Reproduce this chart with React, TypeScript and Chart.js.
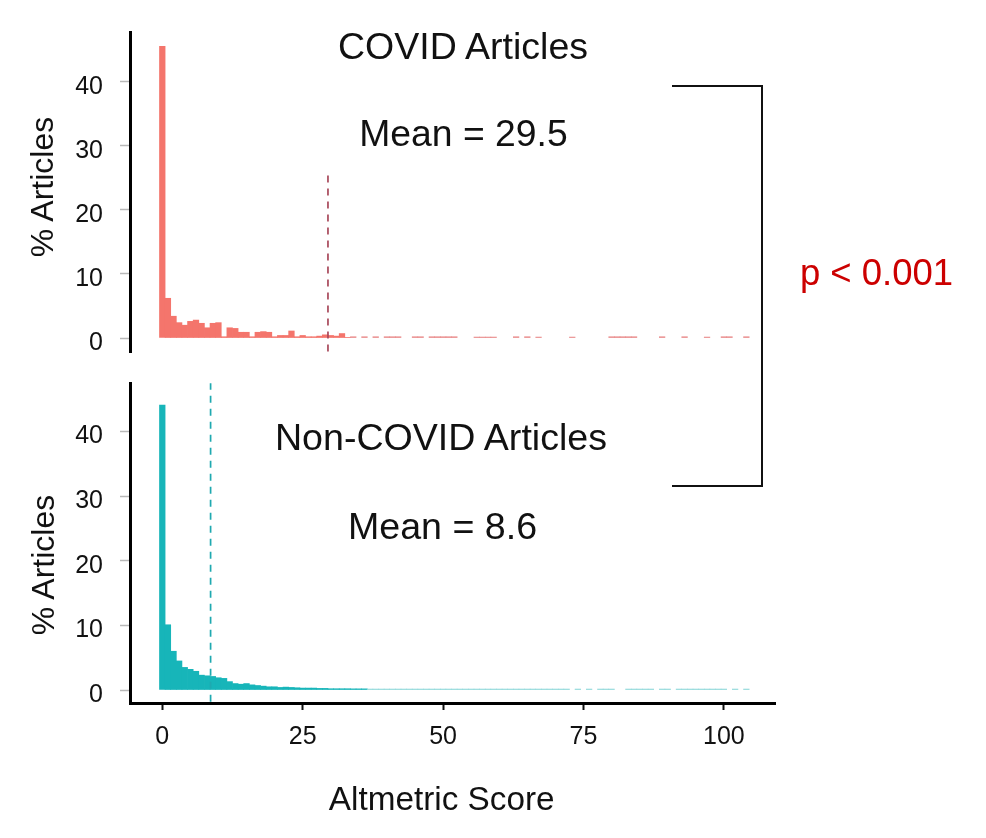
import React, { useEffect, useRef } from "react";
import { Chart, registerables } from "chart.js";

Chart.register(...registerables);

// ---------- data ----------
const xTicks = [0, 25, 50, 75, 100];
const yTicks = [0, 10, 20, 30, 40];

const covidScores = [
  0, 1, 2, 3, 4, 5, 6, 7, 8, 9, 10, 11, 12, 13, 14, 15, 16, 17, 18, 19, 20, 21, 22, 23, 24, 25, 26, 27, 28, 29, 30, 31, 32, 33,
  34, 36, 38, 40, 41, 42, 45, 46, 48, 49, 50, 51, 52, 56, 57, 58, 59, 63, 65, 67, 73, 80, 81, 82, 83, 84, 89, 93, 97, 100, 101, 104,
];
const covidPct = [
  45.5, 6.2, 3.4, 2.4, 2.0, 2.6, 2.8, 2.3, 1.6, 2.3, 2.4, 0.2, 1.6, 1.5, 0.9, 0.9, 0.2, 0.9, 1.0, 0.9, 0.2, 0.4, 0.4, 1.1, 0.2, 0.4, 0.2, 0.2, 0.3, 0.5, 0.4, 0.3, 0.7, 0.1,
  0.2, 0.2, 0.2, 0.2, 0.2, 0.2, 0.2, 0.2, 0.2, 0.2, 0.2, 0.2, 0.2, 0.15, 0.15, 0.15, 0.15, 0.2, 0.2, 0.15, 0.15, 0.2, 0.2, 0.2, 0.2, 0.2, 0.2, 0.2, 0.15, 0.2, 0.2, 0.2,
];
const covidMean = 29.5;
const covidMeanLineSpan = [-2.1, 25.7];

const nonCovidScores = [
  0, 1, 2, 3, 4, 5, 6, 7, 8, 9, 10, 11, 12, 13, 14, 15, 16, 17, 18, 19, 20, 21, 22, 23, 24, 25, 26, 27, 28, 29, 30, 31, 32, 33, 34, 35, 36,
  37, 38, 39, 40, 41, 42, 43, 44, 45, 46, 47, 48, 49, 50, 51, 52, 53, 54, 55, 56, 57, 58, 59, 60, 61, 62, 63, 64, 65, 66, 67, 68, 69, 70, 71, 72,
  74, 76, 78, 79, 80, 83, 84, 85, 86, 87, 89, 90, 92, 93, 94, 95, 96, 97, 98, 99, 100, 102, 104,
];
const nonCovidPct = [
  44.1, 10.1, 6.0, 4.5, 3.5, 3.2, 2.9, 2.3, 2.2, 2.1, 1.9, 1.8, 1.3, 1.0, 0.9, 1.0, 0.8, 0.7, 0.6, 0.5, 0.5, 0.4, 0.45, 0.4, 0.35, 0.3, 0.3, 0.3, 0.25, 0.25, 0.2, 0.2, 0.2, 0.2, 0.18, 0.18, 0.18,
  0.15, 0.15, 0.15, 0.15, 0.15, 0.15, 0.15, 0.15, 0.15, 0.15, 0.15, 0.15, 0.15, 0.15, 0.15, 0.15, 0.15, 0.15, 0.15, 0.15, 0.15, 0.15, 0.15, 0.15, 0.15, 0.15, 0.15, 0.15, 0.15, 0.15, 0.15, 0.15, 0.15, 0.15, 0.15, 0.15,
  0.15, 0.15, 0.15, 0.15, 0.15, 0.15, 0.15, 0.15, 0.15, 0.15, 0.15, 0.15, 0.15, 0.15, 0.15, 0.15, 0.15, 0.15, 0.15, 0.15, 0.15, 0.15, 0.15,
];
const nonCovidMean = 8.6;
const nonCovidMeanLineSpan = [-1.8, 47.5];

// ---------- styling ----------
const FONT = "'Liberation Sans', Arial, Helvetica, sans-serif";
const COVID_COLOR = "#F4756C";
const COVID_TAIL_COLOR = "#E98A8A";
const COVID_MEAN_COLOR = "#A8485A";
const NONCOVID_COLOR = "#17B5B9";
const NONCOVID_TAIL_COLOR = "#8FD8DA";
const NONCOVID_MEAN_COLOR = "#1FA9B0";
const X_MIN = -5.75;
const X_MAX = 109.1;

function makeConfig(
  scores: number[],
  pct: number[],
  color: string,
  tailColor: string,
  tailFrom: number,
  mean: number,
  span: number[],
  meanColor: string,
  yMin: number,
  yMax: number,
  showX: boolean,
  padding: { top: number; bottom: number },
  dash: number[]
): any {
  return {
    type: "bar",
    data: {
      datasets: [
        {
          type: "line",
          data: [
            { x: mean, y: span[0] },
            { x: mean, y: span[1] },
          ],
          borderColor: meanColor,
          borderWidth: 1.7,
          borderDash: dash,
          pointRadius: 0,
          fill: false,
          order: 0,
          clip: false,
        },
        {
          type: "bar",
          data: scores.map((s, i) => ({ x: s, y: pct[i] })),
          backgroundColor: (ctx: any) => (ctx.raw && ctx.raw.x >= tailFrom ? tailColor : color),
          borderWidth: 0,
          barPercentage: 1,
          categoryPercentage: 1,
          order: 1,
        },
      ],
    },
    options: {
      animation: false,
      responsive: true,
      maintainAspectRatio: false,
      layout: { padding: { left: 0, right: 211, top: padding.top, bottom: padding.bottom } },
      plugins: { legend: { display: false }, tooltip: { enabled: false }, title: { display: false } },
      scales: {
        x: {
          type: "linear",
          min: X_MIN,
          max: X_MAX,
          offset: false,
          display: showX,
          afterFit: (s: any) => {
            if (showX) s.height = 60;
          },
          afterBuildTicks: (s: any) => {
            s.ticks = xTicks.map((v) => ({ value: v }));
          },
          grid: { offset: false, drawOnChartArea: false, tickLength: 7, tickColor: "#111", tickWidth: 2 },
          border: { color: "#000", width: 3 },
          ticks: {
            font: { family: FONT, size: 25 },
            color: "#111",
            padding: 12,
            maxRotation: 0,
            autoSkip: false,
            callback: (v: any) => String(v),
          },
        },
        y: {
          type: "linear",
          min: yMin,
          max: yMax,
          afterFit: (s: any) => {
            s.width = 130;
          },
          afterBuildTicks: (s: any) => {
            s.ticks = yTicks.map((v) => ({ value: v }));
          },
          grid: { drawOnChartArea: false, tickLength: 10, tickColor: "#b8b8b8", tickWidth: 1.5 },
          border: { color: "#000", width: 3 },
          ticks: {
            font: { family: FONT, size: 25 },
            color: "#111",
            padding: 17,
            labelOffset: 5,
            autoSkip: false,
            callback: (v: any) => String(v),
          },
        },
      },
    },
  };
}

function ChartBox(props: { style: React.CSSProperties; config: () => any }) {
  const ref = useRef<HTMLCanvasElement | null>(null);
  useEffect(() => {
    if (!ref.current) return;
    const chart = new Chart(ref.current, props.config());
    return () => chart.destroy();
  }, []);
  return (
    <div style={{ position: "absolute", ...props.style }}>
      <canvas ref={ref} />
    </div>
  );
}

function Label(props: { x: number; y: number; size: number; text: string; color?: string; rotate?: boolean }) {
  return (
    <span
      style={{
        position: "absolute",
        left: props.x,
        top: props.y,
        transform: "translate(-50%, -50%)" + (props.rotate ? " rotate(-90deg)" : ""),
        fontFamily: FONT,
        fontSize: props.size,
        lineHeight: 1,
        whiteSpace: "nowrap",
        color: props.color || "#111",
      }}
    >
      {props.text}
    </span>
  );
}

export default function App() {
  return (
    <div
      style={{
        position: "fixed",
        left: 0,
        top: 0,
        width: 986,
        height: 838,
        background: "#fff",
        overflow: "hidden",
      }}
    >
      <ChartBox
        style={{ left: 0, top: 0, width: 986, height: 392 }}
        config={() =>
          makeConfig(covidScores, covidPct, COVID_COLOR, COVID_TAIL_COLOR, 34, covidMean, covidMeanLineSpan, COVID_MEAN_COLOR, -2.18, 47.74, false, { top: 32, bottom: 40 }, [7, 6])
        }
      />
      <ChartBox
        style={{ left: 0, top: 343, width: 986, height: 495 }}
        config={() =>
          makeConfig(nonCovidScores, nonCovidPct, NONCOVID_COLOR, NONCOVID_TAIL_COLOR, 37, nonCovidMean, nonCovidMeanLineSpan, NONCOVID_MEAN_COLOR, -2.01, 47.52, true, { top: 40, bottom: 75 }, [7, 6])
        }
      />

      <Label x={463} y={46.5} size={37.5} text="COVID Articles" />
      <Label x={463.5} y={134} size={37.3} text="Mean = 29.5" />
      <Label x={441} y={438} size={37.6} text="Non-COVID Articles" />
      <Label x={442.5} y={527} size={37.6} text="Mean = 8.6" />
      <Label x={876.5} y={273} size={36.5} text="p < 0.001" color="#cc0000" />
      <Label x={441.7} y={798.5} size={33.3} text="Altmetric Score" />
      <Label x={41.5} y={187} size={32} text="% Articles" rotate />
      <Label x={42.5} y={565} size={32} text="% Articles" rotate />

      <div
        style={{
          position: "absolute",
          left: 672,
          top: 85,
          width: 89,
          height: 398,
          borderTop: "2px solid #111",
          borderRight: "2.5px solid #111",
          borderBottom: "2px solid #111",
        }}
      />
    </div>
  );
}
